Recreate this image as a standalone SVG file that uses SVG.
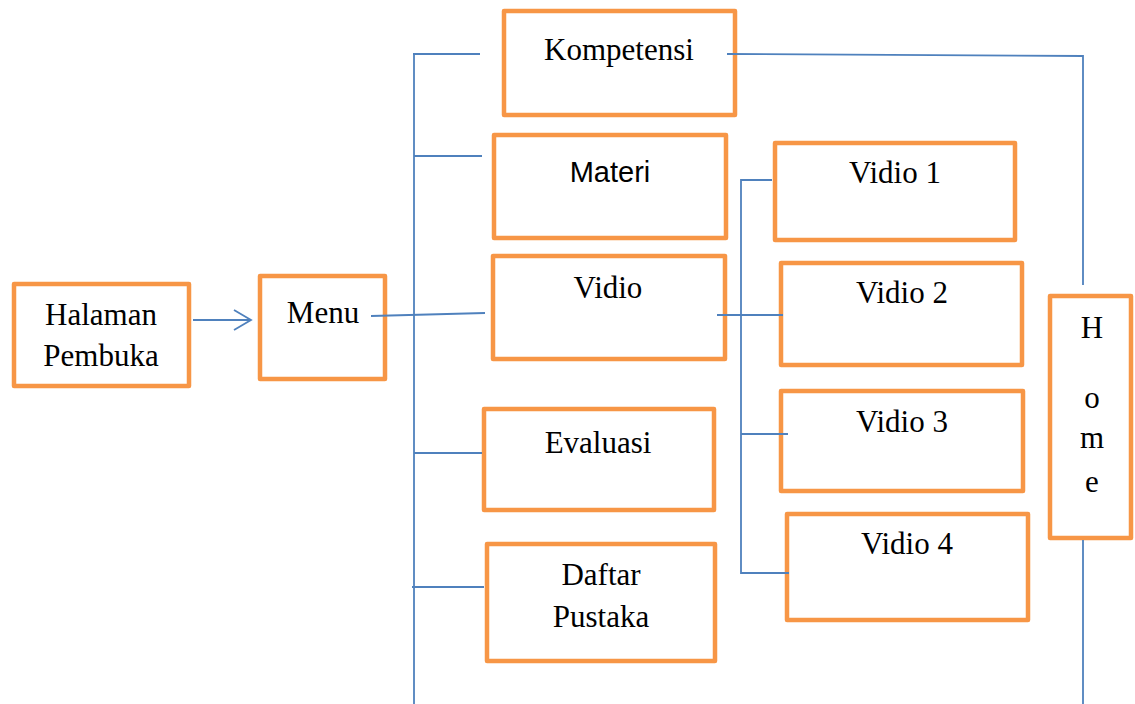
<svg xmlns="http://www.w3.org/2000/svg" width="1135" height="704" viewBox="0 0 1135 704">
<style>
.box{fill:#fff;stroke:#F79646;stroke-width:4.5;stroke-linejoin:round}
.ln{fill:none;stroke:#4F81BD;stroke-width:1.8}
.t{font-family:"Liberation Serif","Times New Roman",serif;font-size:31px;fill:#000;text-anchor:middle}
.s{font-family:"Liberation Sans",Arial,sans-serif;font-size:29px;fill:#000;text-anchor:middle}
</style>
<rect width="1135" height="704" fill="#fff"/>
<g id="halaman"><rect class="box" x="14" y="284" width="175" height="102"/><text class="t" x="101" y="325">Halaman</text><text class="t" x="101" y="366">Pembuka</text></g>
<g id="menu"><rect class="box" x="260" y="276" width="125" height="103"/><text class="t" x="323" y="323">Menu</text></g>
<g id="kompetensi"><rect class="box" x="504" y="11" width="231" height="104"/><text class="t" x="619" y="60">Kompetensi</text></g>
<g id="materi"><rect class="box" x="494" y="135" width="232" height="103"/><text class="s" x="610" y="182">Materi</text></g>
<g id="vidio"><rect class="box" x="493" y="256" width="232" height="103"/><text class="t" x="608" y="298">Vidio</text></g>
<g id="evaluasi"><rect class="box" x="484" y="409" width="230" height="101"/><text class="t" x="598" y="453">Evaluasi</text></g>
<g id="daftar"><rect class="box" x="487" y="544" width="228" height="117"/><text class="t" x="601" y="585">Daftar</text><text class="t" x="601" y="627">Pustaka</text></g>
<g id="vidio1"><rect class="box" x="775" y="143" width="240" height="97"/><text class="t" x="895" y="183">Vidio 1</text></g>
<g id="vidio2"><rect class="box" x="781" y="263" width="241" height="102"/><text class="t" x="902" y="303">Vidio 2</text></g>
<g id="vidio3"><rect class="box" x="781" y="391" width="242" height="100"/><text class="t" x="902" y="432">Vidio 3</text></g>
<g id="vidio4"><rect class="box" x="787" y="514" width="241" height="106"/><text class="t" x="907" y="554">Vidio 4</text></g>
<g id="home"><rect class="box" x="1050" y="296" width="81" height="242"/>
<text class="t" x="1092" y="338">H</text><text class="t" x="1092" y="408">o</text><text class="t" x="1092" y="448">m</text><text class="t" x="1092" y="492">e</text></g>
<g id="connectors">
<line class="ln" x1="193" y1="320" x2="251" y2="320"/>
<polyline class="ln" points="234,310 251,320 234,330"/>
<line class="ln" x1="371" y1="316" x2="485" y2="313"/>
<line class="ln" x1="414" y1="55" x2="414" y2="704"/>
<line class="ln" x1="413" y1="54" x2="480" y2="54"/>
<line class="ln" x1="414" y1="156" x2="482" y2="156"/>
<line class="ln" x1="414" y1="453" x2="482" y2="453"/>
<line class="ln" x1="412" y1="587" x2="484" y2="587"/>
<polyline class="ln" points="727,54 1083,56 1083,285"/>
<line class="ln" x1="1083" y1="540" x2="1083" y2="704"/>
<line class="ln" x1="717" y1="315" x2="783" y2="315"/>
<polyline class="ln" points="772,180 741,180 741,573 789,573"/>
<line class="ln" x1="741" y1="434" x2="788" y2="434"/>
</g>
</svg>
